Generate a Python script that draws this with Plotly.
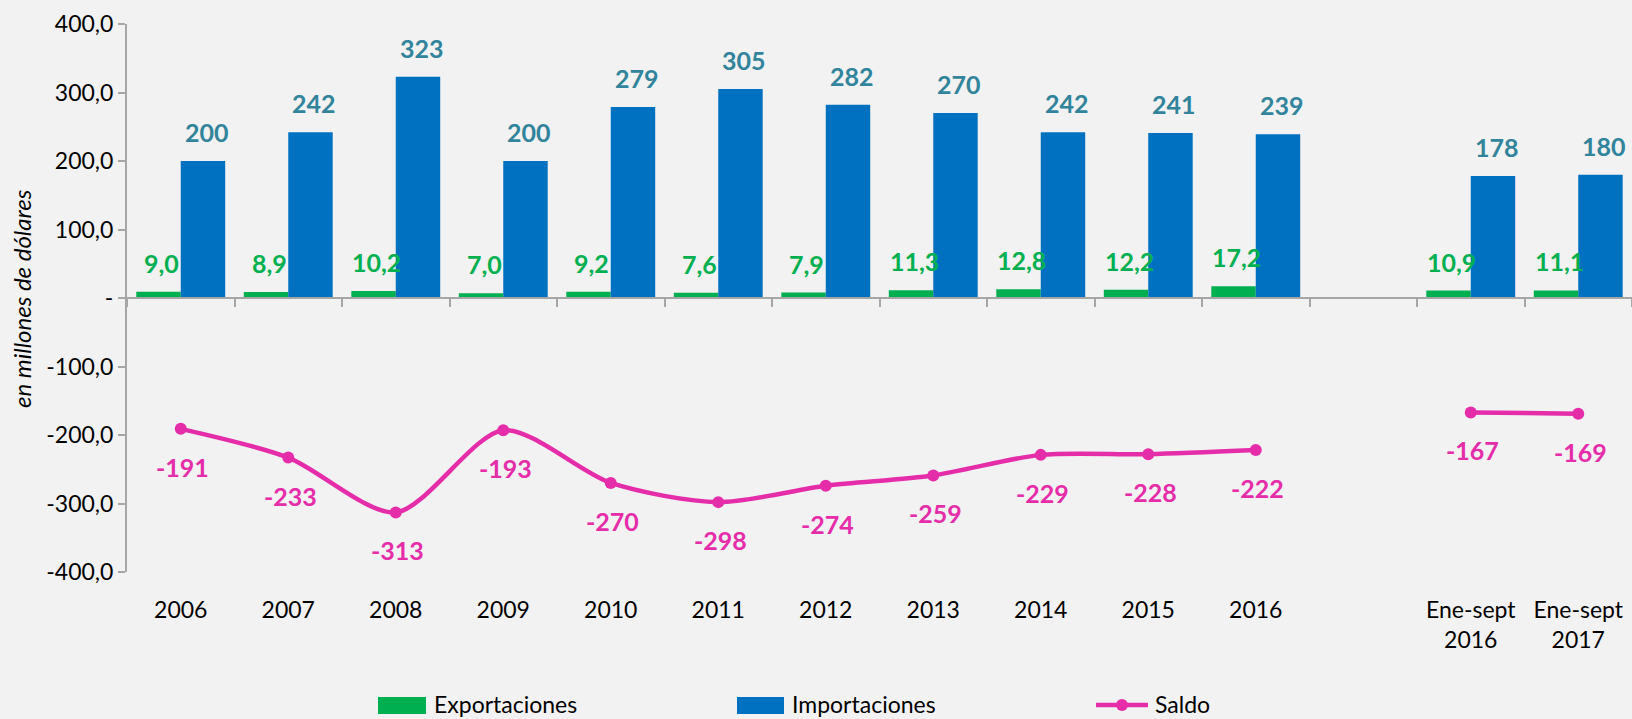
import plotly.graph_objects as go

categorias = ["2006", "2007", "2008", "2009", "2010", "2011", "2012", "2013",
              "2014", "2015", "2016", " ", "Ene-sept<br>2016", "Ene-sept<br>2017"]
exportaciones = [9.0, 8.9, 10.2, 7.0, 9.2, 7.6, 7.9, 11.3, 12.8, 12.2, 17.2, None, 10.9, 11.1]
importaciones = [200, 242, 323, 200, 279, 305, 282, 270, 242, 241, 239, None, 178, 180]
saldo = [-191, -233, -313, -193, -270, -298, -274, -259, -229, -228, -222, None, -167, -169]
y_ticks = [400, 300, 200, 100, 0, -100, -200, -300, -400]
y_ticktext = ["400,0", "300,0", "200,0", "100,0", "-", "-100,0", "-200,0", "-300,0", "-400,0"]

VERDE = "#00B050"
AZUL = "#0070C0"
TEAL = "#31849B"
ROSA = "#E52DAA"
GRIS = "#A6A6A6"
FONDO = "#F2F2F2"
FUENTE = "Lato"

W, H = 1632, 719
L, R, T, B = 127, 0, 24, 147


def px(x):
    return (x - L) / (W - L - R)


def py(y):
    return (H - B - y) / (H - T - B)


fig = go.Figure()

fig.add_trace(go.Bar(x=categorias, y=exportaciones, name="Exportaciones",
                     marker=dict(color=VERDE, line=dict(width=0))))
fig.add_trace(go.Bar(x=categorias, y=importaciones, name="Importaciones",
                     marker=dict(color=AZUL, line=dict(width=0))))
# la linea de saldo va sobre el eje x2, que dibuja la linea del cero con sus marcas
fig.add_trace(go.Scatter(x=categorias, y=saldo, name="Saldo", mode="lines+markers",
                         xaxis="x2",
                         line=dict(color=ROSA, width=4.5, shape="spline", smoothing=0.8),
                         marker=dict(color=ROSA, size=12), connectgaps=False))

# etiquetas de datos
anns = []
for k, (e, i, s) in enumerate(zip(exportaciones, importaciones, saldo)):
    if e is not None:
        anns.append(dict(x=k, y=e, text=f"{e:.1f}".replace(".", ","), showarrow=False,
                         xshift=-19, yshift=29, yanchor="middle",
                         font=dict(family=FUENTE, size=25, color=VERDE, weight="bold")))
    if i is not None:
        anns.append(dict(x=k, y=i, text=f"{i:d}", showarrow=False,
                         xshift=26, yshift=29, yanchor="middle",
                         font=dict(family=FUENTE, size=25, color=TEAL, weight="bold")))
    if s is not None:
        anns.append(dict(x=k, y=s, text=f"{s:d}", showarrow=False,
                         xshift=2, yshift=-38, yanchor="middle",
                         font=dict(family=FUENTE, size=25, color=ROSA, weight="bold")))

# titulo del eje y
anns.append(dict(xref="paper", yref="paper", x=px(21), y=py(299), text="<i>en millones de dólares</i>",
                 textangle=-90, showarrow=False, xanchor="center", yanchor="middle",
                 font=dict(family=FUENTE, size=24, color="#000000")))

# leyenda
leyenda_txt = [("Exportaciones", 432), ("Importaciones", 790), ("Saldo", 1153)]
for txt, x0 in leyenda_txt:
    anns.append(dict(xref="paper", yref="paper", x=px(x0), y=py(704), text=txt, showarrow=False,
                     xanchor="left", yanchor="middle",
                     font=dict(family=FUENTE, size=23, color="#000000")))

shapes = [
    dict(type="rect", xref="paper", yref="paper", x0=px(378), x1=px(426), y0=py(697), y1=py(714),
         fillcolor=VERDE, line=dict(width=0)),
    dict(type="rect", xref="paper", yref="paper", x0=px(737), x1=px(784), y0=py(697), y1=py(714),
         fillcolor=AZUL, line=dict(width=0)),
    dict(type="line", xref="paper", yref="paper", x0=px(1096), x1=px(1148), y0=py(705), y1=py(705),
         line=dict(color=ROSA, width=4.5)),
    dict(type="circle", xref="paper", yref="paper", x0=px(1116), x1=px(1128), y0=py(699), y1=py(711),
         fillcolor=ROSA, line=dict(width=0)),
]

fig.update_layout(
    width=W, height=H,
    margin=dict(l=L, r=R, t=T, b=B),
    paper_bgcolor=FONDO, plot_bgcolor=FONDO,
    barmode="group", bargap=0.173, bargroupgap=0,
    showlegend=False,
    annotations=anns, shapes=shapes,
    xaxis=dict(type="category", categoryorder="array", categoryarray=categorias,
               range=[-0.5, 13.5], showline=False, ticks="", showgrid=False, zeroline=False,
               ticklabelstandoff=22,
               tickfont=dict(family=FUENTE, size=23, color="#000000")),
    xaxis2=dict(type="category", categoryorder="array", categoryarray=categorias,
                overlaying="x", anchor="free", position=0.5, range=[-0.5, 13.5],
                tickson="boundaries", ticks="outside", ticklen=8, tickwidth=1.5, tickcolor=GRIS,
                showline=True, linecolor=GRIS, linewidth=2, showticklabels=False,
                showgrid=False, zeroline=False),
    yaxis=dict(range=[-400, 400], tickvals=y_ticks, ticktext=y_ticktext,
               showline=True, linecolor=GRIS, linewidth=2, ticks="outside", ticklen=7,
               tickwidth=1.5, tickcolor=GRIS, showgrid=False, zeroline=False,
               tickfont=dict(family=FUENTE, size=23, color="#000000")),
    font=dict(family=FUENTE),
)

fig.write_html("out.html", config={"displayModeBar": False},
               post_script="document.body.style.margin='0';")
